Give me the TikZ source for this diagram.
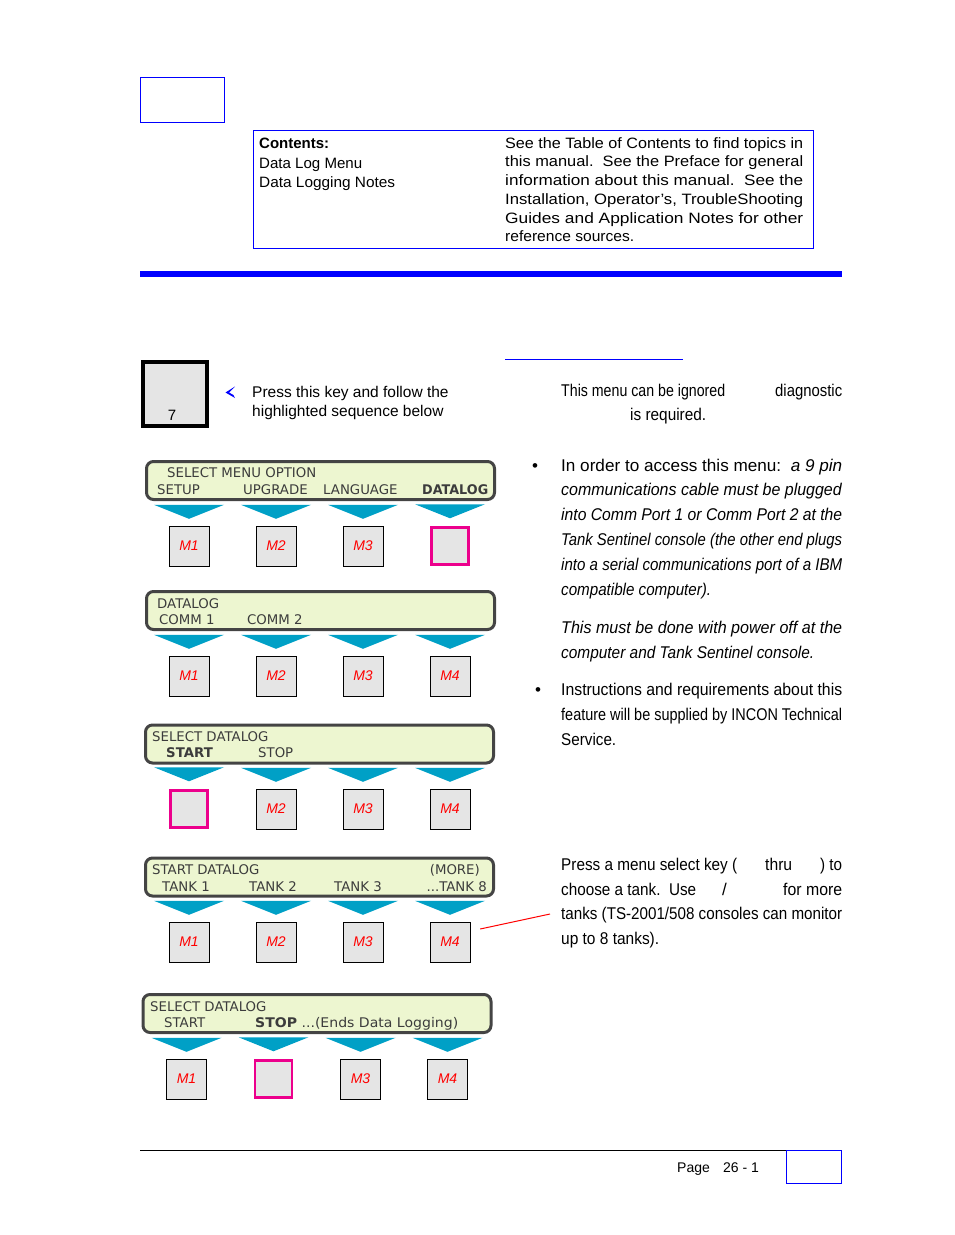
\documentclass[tikz,border=0pt]{standalone}
\usepackage{fontspec}
\usepackage{graphicx}
\setmainfont{Liberation Sans}
\newfontfamily\lcdfont{DejaVu Sans}
\usetikzlibrary{positioning}
\definecolor{lcdfill}{RGB}{237,246,208}
\definecolor{lcdframe}{RGB}{68,68,68}
\definecolor{lcdtext}{RGB}{60,60,60}
\definecolor{tricyan}{RGB}{0,160,198}
\definecolor{keygray}{RGB}{229,229,229}
\definecolor{hilite}{RGB}{236,0,140}
\newcommand\fitline[2]{\resizebox{#1}{\height}{#2}}

\begin{document}
\begin{tikzpicture}[x=1pt, y=-1pt,
  lcd/.style={draw=lcdframe, line width=3pt, rounded corners=7pt, fill=lcdfill, minimum width=348pt, minimum height=38pt, inner sep=0pt},
  lcdtxt/.style={anchor=base west, inner sep=0pt, text=lcdtext, font=\lcdfont\fontsize{13.3}{15}\selectfont},
  tri/.style={fill=tricyan},
  mkey/.style={draw, fill=keygray, minimum size=40pt, inner sep=0pt, text=red, font=\itshape\fontsize{14}{16}\selectfont},
  hkey/.style={draw=hilite, line width=2.5pt, fill=keygray, minimum size=37pt, inner sep=0pt},
  body/.style={anchor=base west, inner sep=0pt, font=\fontsize{17}{20}\selectfont},
  toc/.style={anchor=base west, inner sep=0pt, font=\fontsize{15}{17}\selectfont},
]
  \useasboundingbox (0,0) rectangle (954,1235);

  % Header
  \draw[blue] (140,77) rectangle (224,122);
  \node[draw=blue, minimum width=560pt, minimum height=118pt, inner sep=0pt] (tocbox) at (533,189) {};
  \node[toc] (tochead) at (259,148) {\fitline{70pt}{\textbf{Contents:}}};
  \node[toc] (toca) at (259,168) {\fitline{103pt}{Data Log Menu}};
  \node[toc] (tocb) at (259,187) {\fitline{136pt}{Data Logging Notes}};
  \node[toc] (tocr1) at (505,148) {\fitline{298pt}{See the Table of Contents to find topics in}};
  \node[toc] (tocr2) at (505,166) {\fitline{298pt}{this manual.\ \ See the Preface for general}};
  \node[toc] (tocr3) at (505,185) {\fitline{298pt}{information about this manual.\ \ See the}};
  \node[toc] (tocr4) at (505,204) {\fitline{298pt}{Installation, Operator’s, TroubleShooting}};
  \node[toc] (tocr5) at (505,223) {\fitline{298pt}{Guides and Application Notes for other}};
  \node[toc] (tocr6) at (505,241) {\fitline{129pt}{reference sources.}};
  \fill[blue] (140,271) rectangle (842,277);

  % Key 7
  \node[draw, line width=4pt, fill=keygray, minimum size=64pt, inner sep=0pt] (key7) at (175,394) {};
  \node[inner sep=0pt, font=\fontsize{15}{17}\selectfont] (key7num) at (172,415) {7};
  \fill[blue] (235,386.5) -- (225.5,392.5) -- (235,398) -- (233.5,395) -- (229,392.5) -- cycle;
  \node[body, font=\fontsize{15.5}{18}\selectfont] (pressA) at (252,397.5) {Press this key and follow the};
  \node[body, font=\fontsize{15.5}{18}\selectfont] (pressB) at (252,416.5) {highlighted sequence below};

  % Panel 1
  \node[lcd] (p1) at (320.5,480.5) {};
  \node[lcdtxt] (p1a) at (167,477) {SELECT MENU OPTION};
  \node[lcdtxt] (p1b) at (157,494) {SETUP};
  \node[lcdtxt] (p1c) at (243,494) {UPGRADE};
  \node[lcdtxt] (p1d) at (323,494) {LANGUAGE};
  \node[lcdtxt] (p1e) at (422,494) {\fitline{66pt}{\textbf{DATALOG}}};
  \node[mkey] (k11) at (189,546) {M1};
  \node[mkey] (k12) at (276,546) {M2};
  \node[mkey] (k13) at (363,546) {M3};
  \node[hkey] (k14) at (450,546) {};
  \fill[tri] ([yshift=7pt]k11.north) -- ++(-35,-14) -- ++(70,0) -- cycle;
  \fill[tri] ([yshift=7pt]k12.north) -- ++(-35,-14) -- ++(70,0) -- cycle;
  \fill[tri] ([yshift=7pt]k13.north) -- ++(-35,-14) -- ++(70,0) -- cycle;
  \fill[tri] ([yshift=8pt]k14.north) -- ++(-35,-14) -- ++(70,0) -- cycle;

  % Panel 2
  \node[lcd] (p2) at (320.5,610.5) {};
  \node[lcdtxt] (p2a) at (157,608) {DATALOG};
  \node[lcdtxt] (p2b) at (159,624) {COMM 1};
  \node[lcdtxt] (p2c) at (247,624) {COMM 2};
  \node[mkey] (k21) at (189,676) {M1};
  \node[mkey] (k22) at (276,676) {M2};
  \node[mkey] (k23) at (363,676) {M3};
  \node[mkey] (k24) at (450,676) {M4};
  \fill[tri] ([yshift=7pt]k21.north) -- ++(-35,-14) -- ++(70,0) -- cycle;
  \fill[tri] ([yshift=7pt]k22.north) -- ++(-35,-14) -- ++(70,0) -- cycle;
  \fill[tri] ([yshift=7pt]k23.north) -- ++(-35,-14) -- ++(70,0) -- cycle;
  \fill[tri] ([yshift=7pt]k24.north) -- ++(-35,-14) -- ++(70,0) -- cycle;

  % Panel 3
  \node[lcd] (p3) at (319.5,744) {};
  \node[lcdtxt] (p3a) at (152,741) {SELECT DATALOG};
  \node[lcdtxt] (p3b) at (166,757) {\textbf{START}};
  \node[lcdtxt] (p3c) at (258,757) {STOP};
  \node[hkey] (k31) at (189,809) {};
  \node[mkey] (k32) at (276,809) {M2};
  \node[mkey] (k33) at (363,809) {M3};
  \node[mkey] (k34) at (450,809) {M4};
  \fill[tri] ([yshift=8pt]k31.north) -- ++(-35,-14) -- ++(70,0) -- cycle;
  \fill[tri] ([yshift=7pt]k32.north) -- ++(-35,-14) -- ++(70,0) -- cycle;
  \fill[tri] ([yshift=7pt]k33.north) -- ++(-35,-14) -- ++(70,0) -- cycle;
  \fill[tri] ([yshift=7pt]k34.north) -- ++(-35,-14) -- ++(70,0) -- cycle;

  % Panel 4
  \node[lcd] (p4) at (319.5,877) {};
  \node[lcdtxt] (p4a) at (152,874) {START DATALOG};
  \node[lcdtxt, anchor=base east] (p4b) at (480,874) {(MORE)};
  \node[lcdtxt] (p4c) at (162,891) {TANK 1};
  \node[lcdtxt] (p4d) at (249,891) {TANK 2};
  \node[lcdtxt] (p4e) at (334,891) {TANK 3};
  \node[lcdtxt, anchor=base east] (p4f) at (487,891) {...TANK 8};
  \node[mkey] (k41) at (189,942) {M1};
  \node[mkey] (k42) at (276,942) {M2};
  \node[mkey] (k43) at (363,942) {M3};
  \node[mkey] (k44) at (450,942) {M4};
  \fill[tri] ([yshift=7pt]k41.north) -- ++(-35,-14) -- ++(70,0) -- cycle;
  \fill[tri] ([yshift=7pt]k42.north) -- ++(-35,-14) -- ++(70,0) -- cycle;
  \fill[tri] ([yshift=7pt]k43.north) -- ++(-35,-14) -- ++(70,0) -- cycle;
  \fill[tri] ([yshift=7pt]k44.north) -- ++(-35,-14) -- ++(70,0) -- cycle;

  % Panel 5
  \node[lcd] (p5) at (317,1013.5) {};
  \node[lcdtxt] (p5a) at (150,1011) {SELECT DATALOG};
  \node[lcdtxt] (p5b) at (164,1027) {START};
  \node[lcdtxt] (p5c) at (255,1027) {\fitline{203pt}{\textbf{STOP} ...(Ends Data Logging)}};
  \node[mkey] (k51) at (186.5,1079) {M1};
  \node[hkey] (k52) at (273.5,1079) {};
  \node[mkey] (k53) at (360.5,1079) {M3};
  \node[mkey] (k54) at (447.5,1079) {M4};
  \fill[tri] ([yshift=7pt]k51.north) -- ++(-35,-14) -- ++(70,0) -- cycle;
  \fill[tri] ([yshift=8pt]k52.north) -- ++(-35,-14) -- ++(70,0) -- cycle;
  \fill[tri] ([yshift=7pt]k53.north) -- ++(-35,-14) -- ++(70,0) -- cycle;
  \fill[tri] ([yshift=7pt]k54.north) -- ++(-35,-14) -- ++(70,0) -- cycle;

  % Right column
  \draw[blue, line width=1pt] (505,359) -- (683,359);
  \node[body] (introA) at (561,396) {\fitline{164pt}{This menu can be ignored}};
  \node[body] (introB) at (775,396) {\fitline{67pt}{diagnostic}};
  \node[body] (introC) at (630,420) {\fitline{76pt}{is required.}};

  \node[body] (bul1) at (532,471) {\textbullet};
  \node[body] (b1a) at (561,471) {\fitline{281pt}{In order to access this menu:\ \ \textit{a 9 pin}}};
  \node[body] (b1b) at (561,495) {\fitline{281pt}{\textit{communications cable must be plugged}}};
  \node[body] (b1c) at (561,520) {\fitline{281pt}{\textit{into Comm Port 1 or Comm Port 2 at the}}};
  \node[body] (b1d) at (561,545) {\fitline{281pt}{\textit{Tank Sentinel console (the other end plugs}}};
  \node[body] (b1e) at (561,570) {\fitline{281pt}{\textit{into a serial communications port of a IBM}}};
  \node[body] (b1f) at (561,595) {\fitline{150pt}{\textit{compatible computer).}}};
  \node[body] (b1g) at (561,633) {\fitline{281pt}{\textit{This must be done with power off at the}}};
  \node[body] (b1h) at (561,658) {\fitline{253pt}{\textit{computer and Tank Sentinel console.}}};

  \node[body] (bul2) at (535,695) {\textbullet};
  \node[body] (b2a) at (561,695) {\fitline{281pt}{Instructions and requirements about this}};
  \node[body] (b2b) at (561,720) {\fitline{281pt}{feature will be supplied by INCON Technical}};
  \node[body] (b2c) at (561,745) {\fitline{55pt}{Service.}};

  \node[body] (tankA) at (561,870) {\fitline{176pt}{Press a menu select key (}};
  \node[body] (tankB) at (765,870) {\fitline{27pt}{thru}};
  \node[body] (tankC) at (820,870) {\fitline{22pt}{) to}};
  \node[body] (tankD) at (561,895) {\fitline{135pt}{choose a tank.\ \ Use}};
  \node[body] (tankE) at (722,895) {/};
  \node[body] (tankF) at (783,895) {\fitline{59pt}{for more}};
  \node[body] (tankG) at (561,919) {\fitline{281pt}{tanks (TS-2001/508 consoles can monitor}};
  \node[body] (tankH) at (561,944) {\fitline{98pt}{up to 8 tanks).}};
  \coordinate (tanktip) at (550,914);
  \draw[red, line width=1pt] ([xshift=10pt, yshift=13pt]k44.east) -- (tanktip);

  % Footer
  \draw (140,1150) -- (842,1150);
  \node[body, font=\fontsize{14}{16}\selectfont] (pg) at (677,1172) {Page};
  \node[body, font=\fontsize{14}{16}\selectfont] (pgnum) at (723,1172) {26 - 1};
  \draw[blue] (786,1150) rectangle (841,1183);
\end{tikzpicture}
\end{document}
